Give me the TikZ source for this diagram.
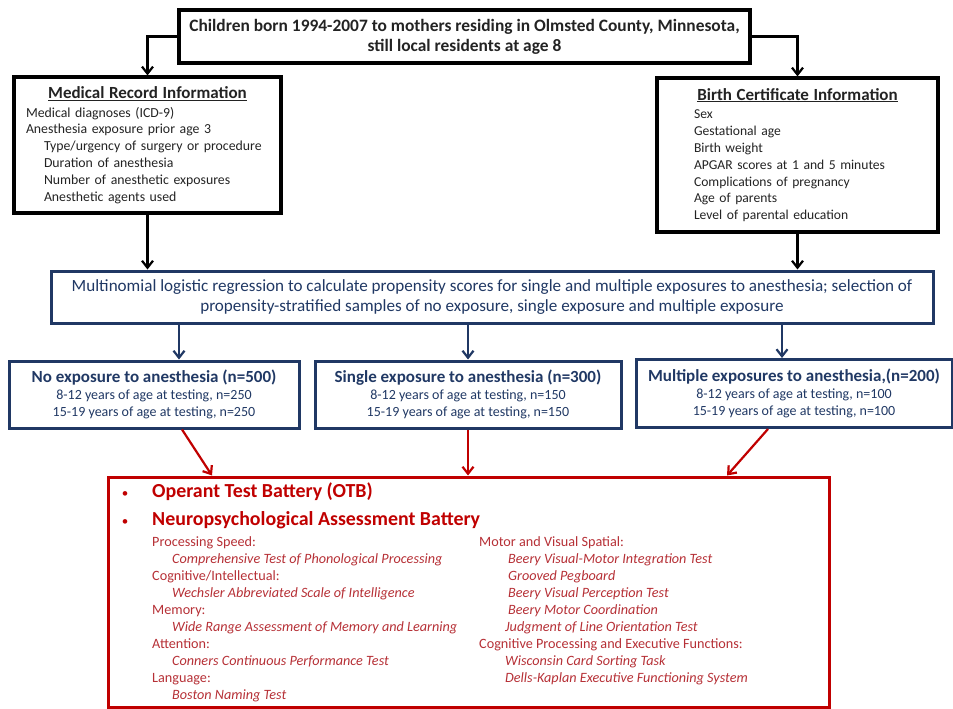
\documentclass[tikz,border=0pt]{standalone}
\usepackage{fontspec}
\setmainfont{Carlito}
\usetikzlibrary{positioning,arrows.meta}
\usepackage{xcolor}
\definecolor{navyc}{RGB}{32,56,100}
\definecolor{redc}{RGB}{192,0,0}
\definecolor{redsubc}{RGB}{182,48,54}
\definecolor{inkc}{RGB}{35,35,35}
\newcommand{\fsz}[2]{\fontsize{#1}{#2}\selectfont}
\tikzset{
  box/.style={draw=black, line width=3.2pt, inner sep=0pt, text=inkc},
  navybox/.style={draw=navyc, line width=3pt, inner sep=0pt, text=navyc, align=center},
  redbox/.style={draw=redc, line width=3pt, inner sep=0pt},
  redtitle/.style={inner sep=0pt, text=redc, font=\fsz{19.9}{25}\bfseries},
  redsub/.style={inner sep=0pt, text=redsubc, align=left, font=\fsz{14.2}{17}},
  flow/.style={-{Straight Barb[length=7pt,width=11pt]}, line width=2.2pt},
  nflow/.style={flow, navyc},
  rflow/.style={flow, redc}
}

\begin{document}
\begin{tikzpicture}[x=1pt, y=-1pt]
  \useasboundingbox (0,0) rectangle (953,709);

  % ---- cohort and data sources ----
  \node[box, minimum width=571pt, minimum height=53pt, align=center, font=\fsz{17.4}{20}\bfseries] (cohort) at (464.5,36.5)
    {Children born 1994-2007 to mothers residing in Olmsted County, Minnesota,\\still local residents at age 8};
  \node[box, minimum width=267pt, minimum height=136pt, text width=243pt, align=left, font=\fsz{13.8}{16.8}] (med) at (147.5,145)
    {\makebox[\linewidth]{\fsz{17}{19}\bfseries\underline{Medical Record Information}}\\[2pt]
     Medical diagnoses (ICD-9)\\
     Anesthesia exposure prior age 3\\
     \hspace*{18pt}Type/urgency of surgery or procedure\\
     \hspace*{18pt}Duration of anesthesia\\
     \hspace*{18pt}Number of anesthetic exposures\\
     \hspace*{18pt}Anesthetic agents used};
  \node[box, minimum width=281pt, minimum height=154pt, text width=207pt, align=left, font=\fsz{13.6}{16.8}] (birth) at (797.5,155)
    {\makebox[\linewidth]{\fsz{17}{19}\bfseries\underline{Birth Certificate Information}}\\[2pt]
     Sex\\
     Gestational age\\
     Birth weight\\
     APGAR scores at 1 and 5 minutes\\
     Complications of pregnancy\\
     Age of parents\\
     Level of parental education};

  % ---- propensity matching ----
  \node[navybox, minimum width=882pt, minimum height=52pt, font=\fsz{17.1}{20}] (reg) at (492,297)
    {Multinomial logistic regression to calculate propensity scores for single and multiple exposures to anesthesia; selection of\\
     propensity-stratified samples of no exposure, single exposure and multiple exposure};

  % ---- exposure groups ----
  \node[navybox, minimum width=290pt, minimum height=67pt, font=\fsz{14}{17}] (none) at (154,394.5)
    {{\fsz{17}{17}\bfseries No exposure to anesthesia (n=500)}\\
     8-12 years of age at testing, n=250\\
     15-19 years of age at testing, n=250};
  \node[navybox, minimum width=306pt, minimum height=67pt, font=\fsz{14}{17}] (single) at (468,394.5)
    {{\fsz{17}{17}\bfseries Single exposure to anesthesia (n=300)}\\
     8-12 years of age at testing, n=150\\
     15-19 years of age at testing, n=150};
  \node[navybox, minimum width=316pt, minimum height=68pt, font=\fsz{14}{17}] (multi) at (794,393.5)
    {{\fsz{17}{17}\bfseries Multiple exposures to anesthesia,(n=200)}\\
     8-12 years of age at testing, n=100\\
     15-19 years of age at testing, n=100};

  % ---- outcome batteries ----
  \node[redbox, minimum width=721pt, minimum height=230pt] (tests) at (468.5,592) {};
  \node[redtitle, anchor=base west] (otb) at (152,497) {Operant Test Battery (OTB)};
  \node[redtitle, anchor=base west] (nab) at (152,525) {Neuropsychological Assessment Battery};
  \node[redtitle, font=\fsz{13}{13}, anchor=base] (dot1) at (125,497) {\textbullet};
  \node[redtitle, font=\fsz{13}{13}, anchor=base] (dot2) at (125,525) {\textbullet};
  \node[redsub, anchor=north west] (leftcol) at (152,536)
    {Processing Speed:\\
     \hspace*{20pt}\textit{Comprehensive Test of Phonological Processing}\\
     Cognitive/Intellectual:\\
     \hspace*{20pt}\textit{Wechsler Abbreviated Scale of Intelligence}\\
     Memory:\\
     \hspace*{20pt}\textit{Wide Range Assessment of Memory and Learning}\\
     Attention:\\
     \hspace*{20pt}\textit{Conners Continuous Performance Test}\\
     Language:\\
     \hspace*{20pt}\textit{Boston Naming Test}};
  \node[redsub, anchor=north west] (rightcol) at (479,536)
    {Motor and Visual Spatial:\\
     \hspace*{29pt}\textit{Beery Visual-Motor Integration Test}\\
     \hspace*{29pt}\textit{Grooved Pegboard}\\
     \hspace*{29pt}\textit{Beery Visual Perception Test}\\
     \hspace*{29pt}\textit{Beery Motor Coordination}\\
     \hspace*{26pt}\textit{Judgment of Line Orientation Test}\\
     Cognitive Processing and Executive Functions:\\
     \hspace*{26pt}\textit{Wisconsin Card Sorting Task}\\
     \hspace*{26pt}\textit{Dells-Kaplan Executive Functioning System}};

  % flows
  \draw[flow] (cohort.west) -| (med.north);
  \draw[flow] (cohort.east) -| (birth.north);
  \draw[flow] (med.south) -- (med.south |- reg.north);
  \draw[flow] (birth.south) -- (birth.south |- reg.north);
  \draw[nflow] ([xshift=25pt]none.north |- reg.south) -- ([xshift=25pt]none.north);
  \draw[nflow] (single.north |- reg.south) -- (single.north);
  \draw[nflow] ([xshift=-12pt]multi.north |- reg.south) -- ([xshift=-12pt]multi.north);
  \draw[rflow] ([xshift=28pt]none.south) -- ([xshift=-256.5pt]tests.north);
  \draw[rflow] (single.south) -- (single.south |- tests.north);
  \draw[rflow] ([xshift=-26pt]multi.south) -- ([xshift=258.5pt]tests.north);
\end{tikzpicture}
\end{document}
